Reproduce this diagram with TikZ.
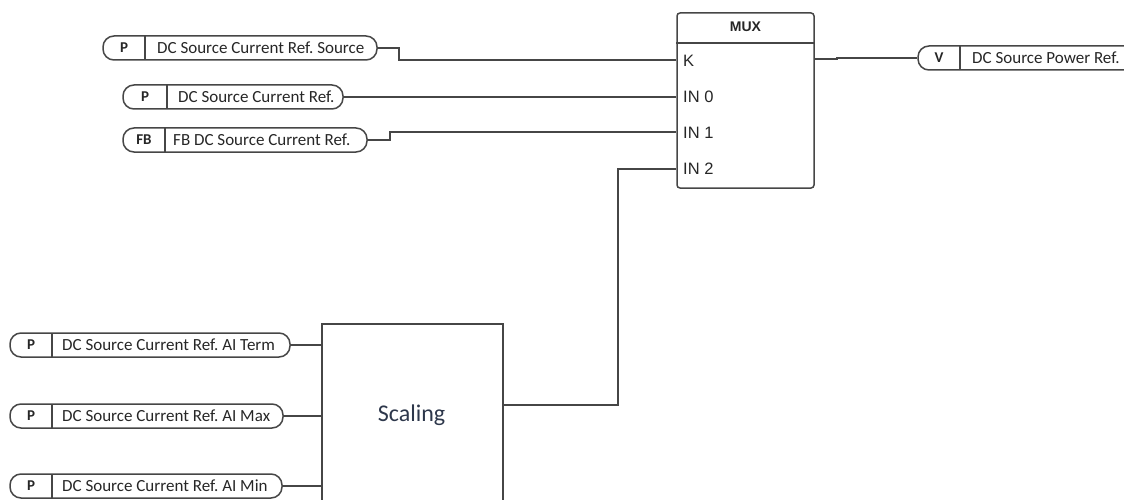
\documentclass[tikz,border=0pt]{standalone}
\usepackage{fontspec}
\newfontfamily\pillfont{Carlito}
\newfontfamily\muxfont{Liberation Sans}
\definecolor{linec}{RGB}{70,70,70}
\definecolor{scaltext}{RGB}{45,55,75}
\frenchspacing
\tikzset{
  wire/.style={draw=linec, line width=1.5pt},
  pill/.style={draw=linec, line width=1.5pt, rounded corners=11pt, minimum height=24pt, inner sep=0pt},
  tagtext/.style={font=\pillfont\bfseries\fontsize{15}{15}\selectfont, text=black!85, inner sep=0pt},
  labeltext/.style={font=\pillfont\fontsize{17}{17}\selectfont, text=black!85, anchor=west, inner sep=0pt},
  blockbox/.style={draw=linec, line width=1.5pt, inner sep=0pt},
  porttext/.style={font=\muxfont\fontsize{16.5}{16.5}\selectfont, text=black!85, anchor=west, inner sep=0pt},
}
% #1 name, #2 left, #3 right, #4 centre y, #5 divider x, #6 tag, #7 label, #8 label start x
\newcommand\mypill[8]{%
  \node[pill, minimum width={(#3-#2)*1pt}] (#1) at ({(#2+#3)/2},#4) {};
  \draw[wire] (#5,{#4-12}) -- (#5,{#4+12});
  \node[tagtext] (#1t) at ({(#2+#5)/2},#4) {#6};
  \node[labeltext] (#1l) at (#8,#4) {#7};
}
\begin{document}
\begin{tikzpicture}[x=1pt,y=-1pt]
\useasboundingbox (0,0) rectangle (1124,500);
\clip (0,0) rectangle (1124,500);

% MUX block
\node[blockbox, rounded corners=3pt, minimum width=137pt, minimum height=175pt] (mux) at (745.5,100.5) {};
\coordinate (hdr) at (700,43);
\draw[wire] (mux.west |- hdr) -- (mux.east |- hdr);
\node[font=\muxfont\bfseries\fontsize{14}{14}\selectfont, text=black!85, inner sep=0pt] (muxt) at (745.5,27) {MUX};
\node[porttext] (kt) at (683,61) {K};
\node[porttext] (in0t) at (683,97) {IN 0};
\node[porttext] (in1t) at (683,133) {IN 1};
\node[porttext] (in2t) at (683,169) {IN 2};
\coordinate (kport) at (mux.west |- 0,60);
\coordinate (in0port) at (mux.west |- 0,97);
\coordinate (in1port) at (mux.west |- 0,132);
\coordinate (in2port) at (mux.west |- 0,169);
\coordinate (outport) at (mux.east |- 0,59);

% input pills (top)
\mypill{p1}{103}{377}{48}{145}{P}{DC Source Current Ref. Source}{157}
\mypill{p2}{123}{343}{97}{167}{P}{DC Source Current Ref.}{178}
\mypill{p3}{123}{367}{140}{165}{FB}{FB DC Source Current Ref.}{173}

% output pill
\mypill{v}{918}{1150}{58}{960}{V}{DC Source Power Ref.}{972}

% Scaling block
\node[blockbox, minimum width=181pt, minimum height=200pt] (scal) at (412.5,424) {};
\node[font=\pillfont\fontsize{24}{24}\selectfont, text=scaltext, inner sep=0pt] (scalt) at (411.5,415) {Scaling};
\coordinate (scalout) at (scal.east |- 0,405);

% bottom pills
\mypill{pa}{10}{290}{345}{52}{P}{DC Source Current Ref. AI Term}{62}
\mypill{pb}{10}{283}{416}{52}{P}{DC Source Current Ref. AI Max}{62}
\mypill{pc}{10}{282}{486}{52}{P}{DC Source Current Ref. AI Min}{62}

% wires
\draw[wire] (p1.east) -- ++(21,0) |- (kport);
\draw[wire] (p2.east) -- (in0port);
\draw[wire] (p3.east) -- ++(22,0) |- (in1port);
\draw[wire] (outport) -- ++(22,0) |- (v.west);
\draw[wire] (pa.east) -- (pa.east -| scal.west);
\draw[wire] (pb.east) -- (pb.east -| scal.west);
\draw[wire] (pc.east) -- (pc.east -| scal.west);
\draw[wire] (scalout) -- ++(114,0) |- (in2port);
\end{tikzpicture}
\end{document}
